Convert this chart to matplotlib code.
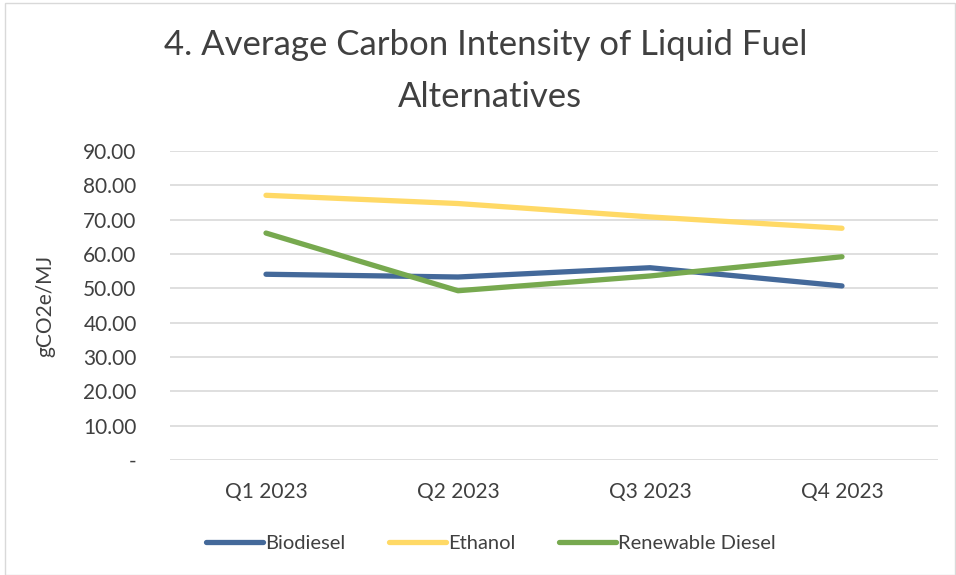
import numpy as np
import matplotlib.pyplot as plt
from matplotlib.patches import Rectangle

quarters = ["Q1 2023", "Q2 2023", "Q3 2023", "Q4 2023"]
biodiesel = [54.1, 53.3, 56.0, 50.7]
ethanol = [77.1, 74.7, 70.8, 67.5]
renewable_diesel = [66.1, 49.3, 53.6, 59.2]
y_ticks = [0, 10, 20, 30, 40, 50, 60, 70, 80, 90]

plt.rcParams['font.family'] = ['Lato', 'DejaVu Sans']
text_col = "#404040"

fig = plt.figure(figsize=(9.56, 5.75), dpi=100)
ax = fig.add_axes([170 / 956, 1 - 460 / 575, (938 - 170) / 956, (460 - 151) / 575])

x = np.arange(len(quarters))
ax.plot(x, biodiesel, color="#44699A", lw=3.8, label="Biodiesel", solid_capstyle="round")
ax.plot(x, ethanol, color="#FFD966", lw=3.8, label="Ethanol", solid_capstyle="round")
ax.plot(x, renewable_diesel, color="#77A94F", lw=3.8, label="Renewable Diesel", solid_capstyle="round")

ax.set_xlim(-0.5, len(quarters) - 0.5)
ax.set_ylim(0, 90)
ax.set_yticks(y_ticks)
ax.set_yticklabels(["-"] + [f"{v:.2f}" for v in y_ticks[1:]])
ax.set_xticks(x)
ax.set_xticklabels(quarters)
ax.tick_params(axis="both", length=0, labelsize=15, colors=text_col)
ax.tick_params(axis="x", pad=16)
ax.tick_params(axis="y", pad=24)
ax.grid(axis="y", color="#D9D9D9", lw=1.2)
ax.set_axisbelow(True)
for s in ax.spines.values():
    s.set_visible(False)

ax.set_ylabel("gCO2e/MJ", fontsize=15, color=text_col, labelpad=20)

fig.text(0.508, 1 - 45 / 575, "4. Average Carbon Intensity of Liquid Fuel", ha="center", va="center",
         fontsize=25, color=text_col)
fig.text(0.513, 1 - 97 / 575, "Alternatives", ha="center", va="center", fontsize=25, color=text_col)

ax.legend(loc="center", bbox_to_anchor=(0.418, -0.27), ncol=3, frameon=False, fontsize=14.5,
          handlelength=2.8, handletextpad=0.1, columnspacing=2.2, labelcolor=text_col)

fig.patches.append(Rectangle((5 / 956, 0.0), 950 / 956, 0.995, transform=fig.transFigure,
                             fill=False, edgecolor="#D9D9D9", lw=1))

fig.savefig("out.png", dpi=100)
